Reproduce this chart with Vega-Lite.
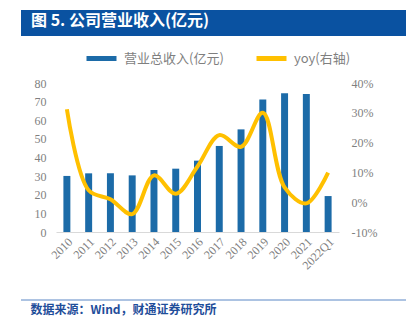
{
  "$schema": "https://vega.github.io/schema/vega-lite/v6.json",
  "background": "white",
  "padding": {"left": 20, "top": 10, "right": 10, "bottom": 5},
  "columns": 1,
  "spacing": 5,
  "resolve": {"scale": {"color": "independent", "x": "independent"}, "legend": {"color": "independent"}},
  "config": {
    "view": {"stroke": null},
    "axis": {"labelFont": "Liberation Serif", "labelFontSize": 12, "labelColor": "#7F7F7F", "grid": false, "ticks": false, "title": null}
  },
  "datasets": {
    "rev": [
      {"period": "2010", "revenue": 30.1, "yoy": 31.2},
      {"period": "2011", "revenue": 31.5, "yoy": 4.0},
      {"period": "2012", "revenue": 31.5, "yoy": 1.0},
      {"period": "2013", "revenue": 30.4, "yoy": -4.0},
      {"period": "2014", "revenue": 33.3, "yoy": 9.0},
      {"period": "2015", "revenue": 34.0, "yoy": 2.8},
      {"period": "2016", "revenue": 38.3, "yoy": 12.0},
      {"period": "2017", "revenue": 46.2, "yoy": 22.5},
      {"period": "2018", "revenue": 55.1, "yoy": 18.6},
      {"period": "2019", "revenue": 71.2, "yoy": 30.0},
      {"period": "2020", "revenue": 74.5, "yoy": 5.0},
      {"period": "2021", "revenue": 74.1, "yoy": -0.4},
      {"period": "2022Q1", "revenue": 19.3, "yoy": 9.9}
    ]
  },
  "concat": [
    {
      "width": 350,
      "height": 26,
      "data": {"values": [{"part": "header"}]},
      "mark": {"type": "rect", "color": "#0A52A1"},
      "encoding": {
        "x": {"datum": 0, "type": "quantitative", "scale": {"domain": [0, 1], "range": [-35, 350]}, "axis": null},
        "x2": {"datum": 1}
      },
      "title": {
        "text": "图 5. 公司营业收入(亿元)",
        "orient": "bottom",
        "anchor": "start",
        "frame": "bounds",
        "baseline": "top",
        "offset": -23,
        "dx": 10,
        "color": "white",
        "font": "Noto Sans CJK SC",
        "fontSize": 16,
        "fontWeight": "bold"
      }
    },
    {
      "width": 283,
      "height": 149,
      "data": {"name": "rev"},
      "encoding": {
        "x": {
          "field": "period",
          "type": "ordinal",
          "sort": null,
          "scale": {"paddingInner": 0.68, "paddingOuter": 0.34},
          "axis": {"labelAngle": -45, "domainColor": "#D9D9D9", "labelPadding": 4}
        }
      },
      "layer": [
        {
          "mark": {"type": "bar"},
          "encoding": {
            "y": {
              "field": "revenue",
              "type": "quantitative",
              "scale": {"domain": [0, 80]},
              "axis": {"values": [0, 10, 20, 30, 40, 50, 60, 70, 80], "domain": false, "labelPadding": 10, "minExtent": 35}
            },
            "color": {
              "datum": "营业总收入(亿元)",
              "scale": {"domain": ["营业总收入(亿元)", "yoy(右轴)"], "range": ["#1C6BA8", "#FFC000"]},
              "legend": {
                "orient": "none",
                "legendX": 28,
                "legendY": -42,
                "direction": "horizontal",
                "gridAlign": "none",
                "title": null,
                "symbolType": "stroke",
                "symbolSize": 900,
                "symbolStrokeWidth": 5,
                "labelFont": "Noto Sans CJK SC",
                "labelFontSize": 13,
                "labelColor": "#7F7F7F",
                "labelOffset": 5,
                "columnPadding": 22,
                "encode": {"symbols": {"update": {"stroke": {"scale": "color", "field": "value"}, "fill": {"value": "transparent"}}}}
              }
            }
          }
        },
        {
          "mark": {"type": "line", "interpolate": "catmull-rom", "strokeWidth": 4},
          "encoding": {
            "y": {
              "field": "yoy",
              "type": "quantitative",
              "scale": {"domain": [-10, 40]},
              "axis": {"orient": "right", "values": [-10, 0, 10, 20, 30, 40], "domain": false, "labelPadding": 12, "labelExpr": "datum.value + '%'"}
            },
            "color": {"datum": "yoy(右轴)"}
          }
        }
      ],
      "resolve": {"scale": {"y": "independent"}}
    },
    {
      "width": 350,
      "height": 23,
      "data": {"values": [{"part": "footer"}]},
      "mark": {"type": "rule", "color": "#5B87C5", "strokeWidth": 1},
      "encoding": {
        "x": {"datum": 0, "type": "quantitative", "scale": {"domain": [0, 1], "range": [-35, 350]}, "axis": null},
        "x2": {"datum": 1},
        "y": {"datum": 0, "type": "quantitative", "scale": {"domain": [0, 1]}, "axis": null}
      },
      "title": {
        "text": "数据来源：Wind，财通证券研究所",
        "orient": "bottom",
        "anchor": "start",
        "frame": "bounds",
        "dx": 10,
        "offset": 4,
        "font": "Noto Sans CJK SC",
        "fontSize": 12,
        "fontWeight": "bold",
        "color": "#1F4E9A"
      }
    }
  ]
}
